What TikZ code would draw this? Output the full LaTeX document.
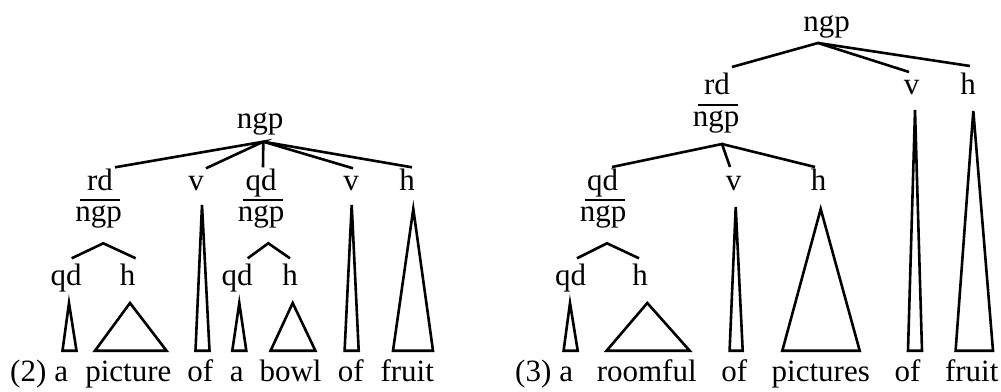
\documentclass[tikz,border=0pt]{standalone}
\usepackage{fontspec}
\setmainfont{Liberation Serif}
\newcommand\olbar[1]{\vbox{\offinterlineskip\setbox0\hbox{#1}\hbox to\wd0{\hskip5pt\leaders\hrule height1.8pt\hfill\hskip1.5pt}\kern4.5pt\box0}}
\begin{document}
\begin{tikzpicture}[x=1pt,y=-1pt,
  lbl/.style={anchor=base,inner sep=0pt,outer sep=0pt,font=\fontsize{31}{37}\selectfont},
  edge/.style={line width=2.6pt},
  tri/.style={line width=2.6pt,line join=miter}]
\useasboundingbox (0,0) rectangle (1001,391);

% ---------- left tree (2) ----------
\node[lbl] (L0)  at (260,128)   {ngp};
\node[lbl] (La)  at (100,190)   {rd};
\node[lbl] (Lan) at (98.5,221.5){\olbar{ngp}};
\node[lbl] (Lb)  at (196,190)   {v};
\node[lbl] (Lc)  at (261,190)   {qd};
\node[lbl] (Lcn) at (261,221.5) {\olbar{ngp}};
\node[lbl] (Ld)  at (351,190)   {v};
\node[lbl] (Le)  at (407,190)   {h};
\node[lbl] (Lf)  at (66,285)    {qd};
\node[lbl] (Lg)  at (127.5,285) {h};
\node[lbl] (Lh)  at (237,285)   {qd};
\node[lbl] (Li)  at (290,285)   {h};

\node[lbl] (W1) at (28.3,381.5)  {(2)};
\node[lbl] (W2) at (61.3,381.5)  {a};
\node[lbl] (W3) at (128.3,381.5) {picture};
\node[lbl] (W4) at (200.3,381.5) {of};
\node[lbl] (W5) at (236.7,381.5) {a};
\node[lbl] (W6) at (290.5,381.5) {bowl};
\node[lbl] (W7) at (350.8,381.5) {of};
\node[lbl] (W8) at (407.2,381.5) {fruit};

\coordinate (L0s) at (263.3,141.7);
\coordinate (Lat) at (115,167.3);
\coordinate (Lbt) at (206,168.3);
\coordinate (Lct) at (263,167.3);
\coordinate (Ldt) at (353,168.3);
\coordinate (Let) at (412,167.3);
\draw[edge] (Lat) -- (L0s) -- (Lbt);
\draw[edge] (L0s) -- (Lct);
\draw[edge] (L0s) -- (Ldt);
\draw[edge] (L0s) -- (Let);

\coordinate (Lans) at (103.3,243.3);
\coordinate (Lft) at (71.7,258.3);
\coordinate (Lgt) at (135.7,258.3);
\draw[edge] (Lft) -- (Lans) -- (Lgt);
\coordinate (Lcns) at (268.3,243.3);
\coordinate (Lht) at (247.7,258.3);
\coordinate (Lit) at (290,258.3);
\draw[edge] (Lht) -- (Lcns) -- (Lit);

% triangles left
\draw[tri] (69,303) -- (62.5,350.7) -- (76.5,350.7) -- cycle;
\draw[tri] (130,303) -- (95,350.7) -- (166.5,350.7) -- cycle;
\draw[tri] (202,205) -- (195.5,350.7) -- (209.5,350.7) -- cycle;
\draw[tri] (239.3,303) -- (232.3,350.7) -- (246.3,350.7) -- cycle;
\draw[tri] (292.7,303) -- (270.6,350.7) -- (315.4,350.7) -- cycle;
\draw[tri] (351.7,205) -- (344.6,350.7) -- (358.7,350.7) -- cycle;
\draw[tri] (413.3,209) -- (393,350.7) -- (433,350.7) -- cycle;

% ---------- right tree (3) ----------
\node[lbl] (R0)  at (826.5,31.5) {ngp};
\node[lbl] (Ra)  at (717,94)     {rd};
\node[lbl] (Ran) at (716,126)    {\olbar{ngp}};
\node[lbl] (Rb)  at (911.5,94)   {v};
\node[lbl] (Rc)  at (968,94)     {h};
\node[lbl] (Rd)  at (602.5,190)  {qd};
\node[lbl] (Rdn) at (603,221.5)  {\olbar{ngp}};
\node[lbl] (Re)  at (733.5,190)  {v};
\node[lbl] (Rf)  at (818.5,190)  {h};
\node[lbl] (Rg)  at (570.5,285)  {qd};
\node[lbl] (Rh)  at (640,285)    {h};

\node[lbl] (X1) at (533.3,381.5) {(3)};
\node[lbl] (X2) at (566.2,381.5) {a};
\node[lbl] (X3) at (646.7,381.5) {roomful};
\node[lbl] (X4) at (734.2,381.5) {of};
\node[lbl] (X5) at (820.8,381.5) {pictures};
\node[lbl] (X6) at (907.5,381.5) {of};
\node[lbl] (X7) at (971.7,381.5) {fruit};

\coordinate (R0s) at (818,43);
\coordinate (Rat) at (732,67);
\coordinate (Rbt) at (909,72);
\coordinate (Rct) at (970,66);
\draw[edge] (Rat) -- (R0s) -- (Rbt);
\draw[edge] (R0s) -- (Rct);

\coordinate (Rans) at (722,144);
\coordinate (Rdt) at (612,167);
\coordinate (Ret) at (730,167);
\coordinate (Rft) at (815,167);
\draw[edge] (Rdt) -- (Rans) -- (Ret);
\draw[edge] (Rans) -- (Rft);

\coordinate (Rdns) at (607,243.3);
\coordinate (Rgt) at (577,258.3);
\coordinate (Rht) at (639,258.3);
\draw[edge] (Rgt) -- (Rdns) -- (Rht);

% triangles right
\draw[tri] (570,303) -- (563.6,350.7) -- (577.7,350.7) -- cycle;
\draw[tri] (647.3,303) -- (606.6,350.7) -- (689.7,350.7) -- cycle;
\draw[tri] (735.7,207) -- (729.6,350.7) -- (742.7,350.7) -- cycle;
\draw[tri] (820.7,209) -- (782.3,350.7) -- (859.7,350.7) -- cycle;
\draw[tri] (915,110) -- (908,350.7) -- (922,350.7) -- cycle;
\draw[tri] (973.3,111) -- (955.6,350.7) -- (993,350.7) -- cycle;
\end{tikzpicture}
\end{document}
